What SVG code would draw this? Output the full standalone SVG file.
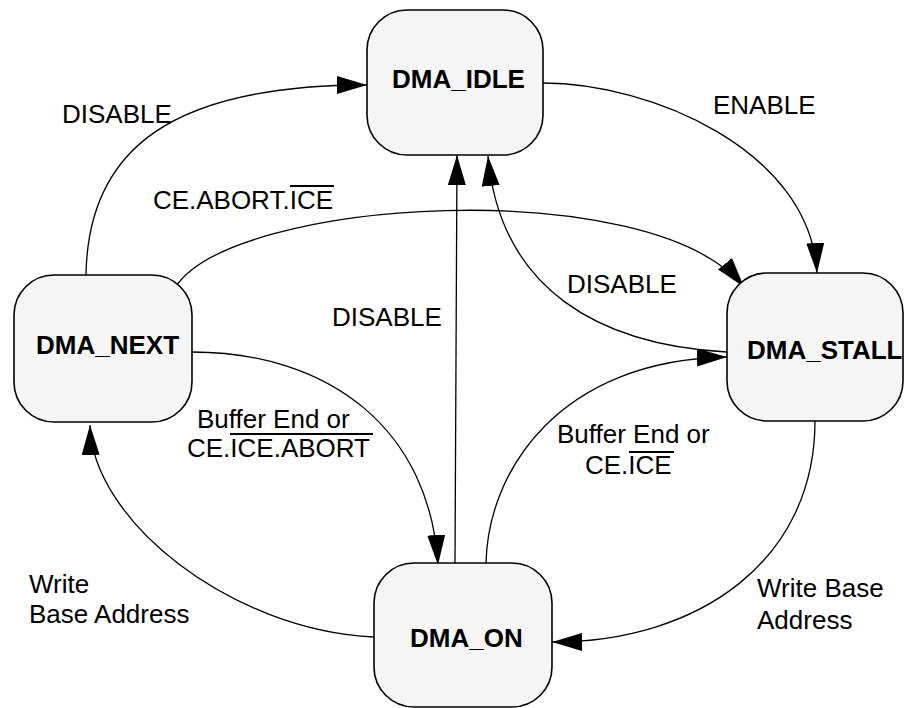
<svg xmlns="http://www.w3.org/2000/svg" width="909" height="708" viewBox="0 0 909 708">
<style>
.node{fill:#f5f5f5;stroke:#000;stroke-width:1.6}
.nl{font-family:"Liberation Sans",Arial,sans-serif;font-size:26px;font-weight:bold;fill:#000}
.lb{font-family:"Liberation Sans",Arial,sans-serif;font-size:26px;fill:#000}
.c{fill:none;stroke:#000;stroke-width:1.3}
.ov{stroke:#000;stroke-width:2}
</style>
<defs>
<marker id="ah" viewBox="0 0 30 18" refX="30" refY="9" markerWidth="30" markerHeight="18" markerUnits="userSpaceOnUse" orient="auto">
<path d="M0,0 L30,9 L0,18 z" fill="#000"/>
</marker>
</defs>
<g id="connectors">
<path class="c" d="M86,275 C 88,150 170,85 367,85" marker-end="url(#ah)"/>
<path class="c" d="M543,83 C 650,83 810,150 817,273" marker-end="url(#ah)"/>
<path class="c" d="M175,288 C 230,198 650,172 744,287" marker-end="url(#ah)"/>
<path class="c" d="M727,352 C 600,345 500,290 488,156" marker-end="url(#ah)"/>
<path class="c" d="M455,563 L457,155" marker-end="url(#ah)"/>
<path class="c" d="M192,352 C 330,352 430,430 438,565" marker-end="url(#ah)"/>
<path class="c" d="M486,563 C 488,470 560,360 727,357" marker-end="url(#ah)"/>
<path class="c" d="M374,637 C 230,630 92,520 90,425" marker-end="url(#ah)"/>
<path class="c" d="M815,421 C 815,560 700,642 552,642" marker-end="url(#ah)"/>
</g>
<g id="labels">
<text class="lb" x="62" y="123">DISABLE</text>
<text class="lb" x="713" y="114">ENABLE</text>
<text class="lb" x="333" y="209" text-anchor="end">CE.ABORT.ICE</text>
<line class="ov" x1="290" y1="186" x2="334" y2="186"/>
<text class="lb" x="567" y="293">DISABLE</text>
<text class="lb" x="332" y="326">DISABLE</text>
<text class="lb" x="197" y="428">Buffer End or</text>
<text class="lb" x="187" y="457">CE.ICE.ABORT</text>
<line class="ov" x1="230" y1="434" x2="373" y2="434"/>
<text class="lb" x="557" y="443">Buffer End or</text>
<text class="lb" x="585" y="474">CE.ICE</text>
<line class="ov" x1="629" y1="452" x2="674" y2="452"/>
<text class="lb" x="29" y="593">Write</text>
<text class="lb" x="29" y="623">Base Address</text>
<text class="lb" x="757" y="597">Write Base</text>
<text class="lb" x="757" y="629">Address</text>
</g>
<g id="DMA_IDLE">
<rect class="node" x="367" y="10" width="176" height="145" rx="40" ry="40"/>
<text class="nl" x="392" y="88">DMA_IDLE</text>
</g>
<g id="DMA_NEXT">
<rect class="node" x="14" y="275" width="178" height="147" rx="40" ry="40"/>
<text class="nl" x="36" y="354">DMA_NEXT</text>
</g>
<g id="DMA_STALL">
<rect class="node" x="727" y="273" width="176" height="148" rx="40" ry="40"/>
<text class="nl" x="747" y="359">DMA_STALL</text>
</g>
<g id="DMA_ON">
<rect class="node" x="374" y="563" width="178" height="144" rx="40" ry="40"/>
<text class="nl" x="410" y="647">DMA_ON</text>
</g>
</svg>
